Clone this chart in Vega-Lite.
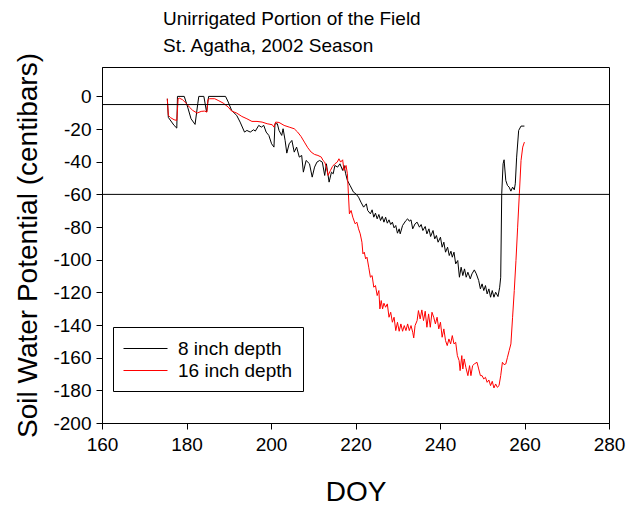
{
  "$schema": "https://vega.github.io/schema/vega-lite/v6.json",
  "autosize": "none",
  "padding": {"left": 102, "top": 67, "right": 20, "bottom": 87},
  "width": 507,
  "height": 356,
  "background": "white",
  "title": {
    "text": ["Unirrigated Portion of the Field", "St. Agatha, 2002 Season"],
    "anchor": "start",
    "frame": "group",
    "dx": 61,
    "offset": -3,
    "font": "Liberation Sans",
    "fontSize": 19,
    "fontWeight": "normal",
    "lineHeight": 27,
    "color": "black"
  },
  "config": {
    "view": {"stroke": "black", "strokeWidth": 1},
    "axis": {
      "grid": false,
      "domainColor": "black",
      "tickColor": "black",
      "labelColor": "black",
      "titleColor": "black",
      "labelFont": "Liberation Sans",
      "titleFont": "Liberation Sans",
      "labelFontSize": 19,
      "titleFontSize": 28,
      "titleFontWeight": "normal",
      "tickSize": 6,
      "labelFlush": false,
      "labelOverlap": false
    }
  },
  "datasets": {
    "refs": [{"swp": -5}, {"swp": -60}],
    "series": [
      {"doy": 175.46, "swp": -1.43, "depth": "8 inch depth"},
      {"doy": 175.70, "swp": -12.87, "depth": "8 inch depth"},
      {"doy": 177.06, "swp": -17.77, "depth": "8 inch depth"},
      {"doy": 177.70, "swp": -19.41, "depth": "8 inch depth"},
      {"doy": 177.86, "swp": 0, "depth": "8 inch depth"},
      {"doy": 179.47, "swp": 0, "depth": "8 inch depth"},
      {"doy": 180.27, "swp": -6.54, "depth": "8 inch depth"},
      {"doy": 181.07, "swp": -13.69, "depth": "8 inch depth"},
      {"doy": 182.03, "swp": -17.16, "depth": "8 inch depth"},
      {"doy": 182.67, "swp": -4.49, "depth": "8 inch depth"},
      {"doy": 182.91, "swp": 0, "depth": "8 inch depth"},
      {"doy": 184.11, "swp": 0, "depth": "8 inch depth"},
      {"doy": 184.75, "swp": -9.60, "depth": "8 inch depth"},
      {"doy": 185.23, "swp": 0, "depth": "8 inch depth"},
      {"doy": 189.24, "swp": 0, "depth": "8 inch depth"},
      {"doy": 189.88, "swp": -3.47, "depth": "8 inch depth"},
      {"doy": 190.68, "swp": -8.58, "depth": "8 inch depth"},
      {"doy": 191.88, "swp": -11.64, "depth": "8 inch depth"},
      {"doy": 192.69, "swp": -15.73, "depth": "8 inch depth"},
      {"doy": 193.73, "swp": -21.86, "depth": "8 inch depth"},
      {"doy": 194.29, "swp": -20.84, "depth": "8 inch depth"},
      {"doy": 195.09, "swp": -21.86, "depth": "8 inch depth"},
      {"doy": 195.89, "swp": -20.43, "depth": "8 inch depth"},
      {"doy": 196.29, "swp": -21.25, "depth": "8 inch depth"},
      {"doy": 197.09, "swp": -17.77, "depth": "8 inch depth"},
      {"doy": 197.73, "swp": -18.80, "depth": "8 inch depth"},
      {"doy": 198.29, "swp": -17.77, "depth": "8 inch depth"},
      {"doy": 198.85, "swp": -21.86, "depth": "8 inch depth"},
      {"doy": 199.49, "swp": -23.90, "depth": "8 inch depth"},
      {"doy": 200.14, "swp": -29.01, "depth": "8 inch depth"},
      {"doy": 200.70, "swp": -31.05, "depth": "8 inch depth"},
      {"doy": 200.94, "swp": -16.75, "depth": "8 inch depth"},
      {"doy": 201.50, "swp": -16.75, "depth": "8 inch depth"},
      {"doy": 201.90, "swp": -20.84, "depth": "8 inch depth"},
      {"doy": 202.54, "swp": -23.90, "depth": "8 inch depth"},
      {"doy": 202.86, "swp": -19.82, "depth": "8 inch depth"},
      {"doy": 203.34, "swp": -26.97, "depth": "8 inch depth"},
      {"doy": 203.74, "swp": -34.73, "depth": "8 inch depth"},
      {"doy": 204.30, "swp": -29.01, "depth": "8 inch depth"},
      {"doy": 204.94, "swp": -26.97, "depth": "8 inch depth"},
      {"doy": 205.50, "swp": -34.12, "depth": "8 inch depth"},
      {"doy": 206.06, "swp": -31.05, "depth": "8 inch depth"},
      {"doy": 206.70, "swp": -37.18, "depth": "8 inch depth"},
      {"doy": 207.26, "swp": -36.16, "depth": "8 inch depth"},
      {"doy": 207.66, "swp": -46.38, "depth": "8 inch depth"},
      {"doy": 208.31, "swp": -39.23, "depth": "8 inch depth"},
      {"doy": 209.11, "swp": -41.27, "depth": "8 inch depth"},
      {"doy": 209.75, "swp": -49.44, "depth": "8 inch depth"},
      {"doy": 210.31, "swp": -43.31, "depth": "8 inch depth"},
      {"doy": 210.87, "swp": -40.25, "depth": "8 inch depth"},
      {"doy": 211.51, "swp": -39.23, "depth": "8 inch depth"},
      {"doy": 212.15, "swp": -40.25, "depth": "8 inch depth"},
      {"doy": 212.71, "swp": -48.42, "depth": "8 inch depth"},
      {"doy": 213.11, "swp": -41.27, "depth": "8 inch depth"},
      {"doy": 213.75, "swp": -52.50, "depth": "8 inch depth"},
      {"doy": 214.31, "swp": -46.38, "depth": "8 inch depth"},
      {"doy": 214.72, "swp": -47.40, "depth": "8 inch depth"},
      {"doy": 215.12, "swp": -42.29, "depth": "8 inch depth"},
      {"doy": 215.76, "swp": -43.31, "depth": "8 inch depth"},
      {"doy": 216.32, "swp": -41.27, "depth": "8 inch depth"},
      {"doy": 216.96, "swp": -45.35, "depth": "8 inch depth"},
      {"doy": 217.28, "swp": -42.29, "depth": "8 inch depth"},
      {"doy": 217.68, "swp": -47.40, "depth": "8 inch depth"},
      {"doy": 218.08, "swp": -51.48, "depth": "8 inch depth"},
      {"doy": 218.72, "swp": -54.55, "depth": "8 inch depth"},
      {"doy": 219.52, "swp": -58.63, "depth": "8 inch depth"},
      {"doy": 220.08, "swp": -59.65, "depth": "8 inch depth"},
      {"doy": 220.72, "swp": -61.70, "depth": "8 inch depth"},
      {"doy": 221.28, "swp": -64.76, "depth": "8 inch depth"},
      {"doy": 221.92, "swp": -67.82, "depth": "8 inch depth"},
      {"doy": 222.57, "swp": -65.78, "depth": "8 inch depth"},
      {"doy": 222.89, "swp": -69.87, "depth": "8 inch depth"},
      {"doy": 223.53, "swp": -71.91, "depth": "8 inch depth"},
      {"doy": 223.93, "swp": -69.46, "depth": "8 inch depth"},
      {"doy": 224.33, "swp": -73.96, "depth": "8 inch depth"},
      {"doy": 224.73, "swp": -71.50, "depth": "8 inch depth"},
      {"doy": 225.13, "swp": -74.98, "depth": "8 inch depth"},
      {"doy": 225.53, "swp": -72.32, "depth": "8 inch depth"},
      {"doy": 225.93, "swp": -76.00, "depth": "8 inch depth"},
      {"doy": 226.33, "swp": -73.55, "depth": "8 inch depth"},
      {"doy": 226.73, "swp": -77.02, "depth": "8 inch depth"},
      {"doy": 227.13, "swp": -73.96, "depth": "8 inch depth"},
      {"doy": 227.53, "swp": -77.63, "depth": "8 inch depth"},
      {"doy": 227.93, "swp": -75.59, "depth": "8 inch depth"},
      {"doy": 228.33, "swp": -78.45, "depth": "8 inch depth"},
      {"doy": 228.73, "swp": -77.02, "depth": "8 inch depth"},
      {"doy": 229.13, "swp": -80.49, "depth": "8 inch depth"},
      {"doy": 229.53, "swp": -79.06, "depth": "8 inch depth"},
      {"doy": 229.93, "swp": -83.76, "depth": "8 inch depth"},
      {"doy": 230.34, "swp": -81.10, "depth": "8 inch depth"},
      {"doy": 230.58, "swp": -84.17, "depth": "8 inch depth"},
      {"doy": 231.14, "swp": -79.06, "depth": "8 inch depth"},
      {"doy": 231.94, "swp": -76.00, "depth": "8 inch depth"},
      {"doy": 232.34, "swp": -74.98, "depth": "8 inch depth"},
      {"doy": 232.74, "swp": -76.41, "depth": "8 inch depth"},
      {"doy": 233.14, "swp": -75.59, "depth": "8 inch depth"},
      {"doy": 233.54, "swp": -81.10, "depth": "8 inch depth"},
      {"doy": 234.10, "swp": -78.04, "depth": "8 inch depth"},
      {"doy": 234.58, "swp": -77.02, "depth": "8 inch depth"},
      {"doy": 235.14, "swp": -80.08, "depth": "8 inch depth"},
      {"doy": 235.54, "swp": -78.45, "depth": "8 inch depth"},
      {"doy": 235.94, "swp": -82.13, "depth": "8 inch depth"},
      {"doy": 236.50, "swp": -79.67, "depth": "8 inch depth"},
      {"doy": 236.90, "swp": -84.17, "depth": "8 inch depth"},
      {"doy": 237.38, "swp": -81.10, "depth": "8 inch depth"},
      {"doy": 237.78, "swp": -85.80, "depth": "8 inch depth"},
      {"doy": 238.35, "swp": -82.13, "depth": "8 inch depth"},
      {"doy": 238.75, "swp": -87.24, "depth": "8 inch depth"},
      {"doy": 239.15, "swp": -85.19, "depth": "8 inch depth"},
      {"doy": 239.55, "swp": -89.28, "depth": "8 inch depth"},
      {"doy": 240.11, "swp": -86.21, "depth": "8 inch depth"},
      {"doy": 240.51, "swp": -92.34, "depth": "8 inch depth"},
      {"doy": 240.91, "swp": -89.28, "depth": "8 inch depth"},
      {"doy": 241.31, "swp": -95.40, "depth": "8 inch depth"},
      {"doy": 241.79, "swp": -92.34, "depth": "8 inch depth"},
      {"doy": 242.19, "swp": -97.45, "depth": "8 inch depth"},
      {"doy": 242.59, "swp": -94.79, "depth": "8 inch depth"},
      {"doy": 242.91, "swp": -98.47, "depth": "8 inch depth"},
      {"doy": 243.31, "swp": -95.40, "depth": "8 inch depth"},
      {"doy": 243.71, "swp": -102.56, "depth": "8 inch depth"},
      {"doy": 244.20, "swp": -100.51, "depth": "8 inch depth"},
      {"doy": 244.60, "swp": -110.73, "depth": "8 inch depth"},
      {"doy": 245.00, "swp": -104.60, "depth": "8 inch depth"},
      {"doy": 245.40, "swp": -109.71, "depth": "8 inch depth"},
      {"doy": 245.80, "swp": -105.62, "depth": "8 inch depth"},
      {"doy": 246.20, "swp": -110.73, "depth": "8 inch depth"},
      {"doy": 246.60, "swp": -107.67, "depth": "8 inch depth"},
      {"doy": 247.16, "swp": -111.75, "depth": "8 inch depth"},
      {"doy": 247.56, "swp": -108.69, "depth": "8 inch depth"},
      {"doy": 248.12, "swp": -106.24, "depth": "8 inch depth"},
      {"doy": 248.60, "swp": -108.69, "depth": "8 inch depth"},
      {"doy": 249.16, "swp": -112.77, "depth": "8 inch depth"},
      {"doy": 249.56, "swp": -117.88, "depth": "8 inch depth"},
      {"doy": 249.96, "swp": -114.81, "depth": "8 inch depth"},
      {"doy": 250.36, "swp": -118.90, "depth": "8 inch depth"},
      {"doy": 250.76, "swp": -115.83, "depth": "8 inch depth"},
      {"doy": 251.16, "swp": -120.94, "depth": "8 inch depth"},
      {"doy": 251.57, "swp": -117.88, "depth": "8 inch depth"},
      {"doy": 251.97, "swp": -122.98, "depth": "8 inch depth"},
      {"doy": 252.37, "swp": -118.90, "depth": "8 inch depth"},
      {"doy": 252.77, "swp": -122.98, "depth": "8 inch depth"},
      {"doy": 253.17, "swp": -119.92, "depth": "8 inch depth"},
      {"doy": 253.73, "swp": -122.57, "depth": "8 inch depth"},
      {"doy": 254.13, "swp": -116.86, "depth": "8 inch depth"},
      {"doy": 254.37, "swp": -110.73, "depth": "8 inch depth"},
      {"doy": 254.61, "swp": -59.65, "depth": "8 inch depth"},
      {"doy": 254.93, "swp": -41.27, "depth": "8 inch depth"},
      {"doy": 255.17, "swp": -38.82, "depth": "8 inch depth"},
      {"doy": 255.57, "swp": -51.48, "depth": "8 inch depth"},
      {"doy": 255.97, "swp": -54.55, "depth": "8 inch depth"},
      {"doy": 256.37, "swp": -55.57, "depth": "8 inch depth"},
      {"doy": 256.78, "swp": -58.02, "depth": "8 inch depth"},
      {"doy": 257.18, "swp": -55.57, "depth": "8 inch depth"},
      {"doy": 257.58, "swp": -57.20, "depth": "8 inch depth"},
      {"doy": 257.82, "swp": -53.52, "depth": "8 inch depth"},
      {"doy": 258.14, "swp": -37.18, "depth": "8 inch depth"},
      {"doy": 258.62, "swp": -20.84, "depth": "8 inch depth"},
      {"doy": 259.18, "swp": -18.18, "depth": "8 inch depth"},
      {"doy": 259.98, "swp": -18.18, "depth": "8 inch depth"},

      {"doy": 175.46, "swp": -1.43, "depth": "16 inch depth"},
      {"doy": 175.70, "swp": -11.64, "depth": "16 inch depth"},
      {"doy": 176.26, "swp": -13.07, "depth": "16 inch depth"},
      {"doy": 177.06, "swp": -14.30, "depth": "16 inch depth"},
      {"doy": 177.70, "swp": -14.71, "depth": "16 inch depth"},
      {"doy": 178.02, "swp": -1.43, "depth": "16 inch depth"},
      {"doy": 178.26, "swp": -1.02, "depth": "16 inch depth"},
      {"doy": 179.07, "swp": -2.04, "depth": "16 inch depth"},
      {"doy": 179.87, "swp": -4.09, "depth": "16 inch depth"},
      {"doy": 180.67, "swp": -6.54, "depth": "16 inch depth"},
      {"doy": 181.47, "swp": -8.58, "depth": "16 inch depth"},
      {"doy": 182.51, "swp": -10.21, "depth": "16 inch depth"},
      {"doy": 183.47, "swp": -9.19, "depth": "16 inch depth"},
      {"doy": 184.27, "swp": -8.99, "depth": "16 inch depth"},
      {"doy": 184.83, "swp": -9.60, "depth": "16 inch depth"},
      {"doy": 185.07, "swp": -2.04, "depth": "16 inch depth"},
      {"doy": 185.47, "swp": -1.43, "depth": "16 inch depth"},
      {"doy": 186.68, "swp": -1.43, "depth": "16 inch depth"},
      {"doy": 187.48, "swp": -2.45, "depth": "16 inch depth"},
      {"doy": 188.68, "swp": -4.09, "depth": "16 inch depth"},
      {"doy": 189.88, "swp": -6.54, "depth": "16 inch depth"},
      {"doy": 190.68, "swp": -8.99, "depth": "16 inch depth"},
      {"doy": 191.88, "swp": -10.21, "depth": "16 inch depth"},
      {"doy": 193.09, "swp": -12.26, "depth": "16 inch depth"},
      {"doy": 194.29, "swp": -13.69, "depth": "16 inch depth"},
      {"doy": 195.49, "swp": -15.32, "depth": "16 inch depth"},
      {"doy": 196.69, "swp": -15.32, "depth": "16 inch depth"},
      {"doy": 197.89, "swp": -15.73, "depth": "16 inch depth"},
      {"doy": 199.09, "swp": -16.75, "depth": "16 inch depth"},
      {"doy": 200.30, "swp": -17.36, "depth": "16 inch depth"},
      {"doy": 200.70, "swp": -18.80, "depth": "16 inch depth"},
      {"doy": 201.10, "swp": -15.73, "depth": "16 inch depth"},
      {"doy": 201.90, "swp": -15.94, "depth": "16 inch depth"},
      {"doy": 203.10, "swp": -17.77, "depth": "16 inch depth"},
      {"doy": 204.30, "swp": -18.80, "depth": "16 inch depth"},
      {"doy": 205.50, "swp": -19.82, "depth": "16 inch depth"},
      {"doy": 206.30, "swp": -21.86, "depth": "16 inch depth"},
      {"doy": 207.10, "swp": -24.51, "depth": "16 inch depth"},
      {"doy": 207.90, "swp": -27.99, "depth": "16 inch depth"},
      {"doy": 208.71, "swp": -31.46, "depth": "16 inch depth"},
      {"doy": 209.51, "swp": -34.12, "depth": "16 inch depth"},
      {"doy": 210.31, "swp": -35.55, "depth": "16 inch depth"},
      {"doy": 211.11, "swp": -36.16, "depth": "16 inch depth"},
      {"doy": 211.91, "swp": -37.18, "depth": "16 inch depth"},
      {"doy": 212.31, "swp": -39.23, "depth": "16 inch depth"},
      {"doy": 212.71, "swp": -40.25, "depth": "16 inch depth"},
      {"doy": 213.11, "swp": -43.31, "depth": "16 inch depth"},
      {"doy": 213.51, "swp": -48.42, "depth": "16 inch depth"},
      {"doy": 214.07, "swp": -45.35, "depth": "16 inch depth"},
      {"doy": 214.55, "swp": -42.90, "depth": "16 inch depth"},
      {"doy": 215.12, "swp": -41.27, "depth": "16 inch depth"},
      {"doy": 215.68, "swp": -40.25, "depth": "16 inch depth"},
      {"doy": 216.08, "swp": -38.20, "depth": "16 inch depth"},
      {"doy": 216.48, "swp": -40.25, "depth": "16 inch depth"},
      {"doy": 216.96, "swp": -38.82, "depth": "16 inch depth"},
      {"doy": 217.28, "swp": -45.35, "depth": "16 inch depth"},
      {"doy": 217.76, "swp": -42.29, "depth": "16 inch depth"},
      {"doy": 218.08, "swp": -47.40, "depth": "16 inch depth"},
      {"doy": 218.32, "swp": -59.65, "depth": "16 inch depth"},
      {"doy": 218.56, "swp": -71.91, "depth": "16 inch depth"},
      {"doy": 218.96, "swp": -69.87, "depth": "16 inch depth"},
      {"doy": 219.36, "swp": -73.96, "depth": "16 inch depth"},
      {"doy": 219.92, "swp": -78.04, "depth": "16 inch depth"},
      {"doy": 220.32, "swp": -77.02, "depth": "16 inch depth"},
      {"doy": 220.72, "swp": -81.10, "depth": "16 inch depth"},
      {"doy": 221.12, "swp": -84.17, "depth": "16 inch depth"},
      {"doy": 221.52, "swp": -89.28, "depth": "16 inch depth"},
      {"doy": 221.76, "swp": -96.43, "depth": "16 inch depth"},
      {"doy": 222.08, "swp": -95.40, "depth": "16 inch depth"},
      {"doy": 222.40, "swp": -99.49, "depth": "16 inch depth"},
      {"doy": 222.72, "swp": -98.47, "depth": "16 inch depth"},
      {"doy": 223.13, "swp": -104.60, "depth": "16 inch depth"},
      {"doy": 223.53, "swp": -110.73, "depth": "16 inch depth"},
      {"doy": 223.93, "swp": -109.71, "depth": "16 inch depth"},
      {"doy": 224.33, "swp": -116.86, "depth": "16 inch depth"},
      {"doy": 224.73, "swp": -115.83, "depth": "16 inch depth"},
      {"doy": 225.13, "swp": -121.96, "depth": "16 inch depth"},
      {"doy": 225.53, "swp": -118.90, "depth": "16 inch depth"},
      {"doy": 225.77, "swp": -130.13, "depth": "16 inch depth"},
      {"doy": 226.09, "swp": -125.02, "depth": "16 inch depth"},
      {"doy": 226.41, "swp": -130.13, "depth": "16 inch depth"},
      {"doy": 226.73, "swp": -126.65, "depth": "16 inch depth"},
      {"doy": 227.13, "swp": -129.11, "depth": "16 inch depth"},
      {"doy": 227.53, "swp": -127.07, "depth": "16 inch depth"},
      {"doy": 227.93, "swp": -135.24, "depth": "16 inch depth"},
      {"doy": 228.33, "swp": -132.18, "depth": "16 inch depth"},
      {"doy": 228.73, "swp": -138.30, "depth": "16 inch depth"},
      {"doy": 229.13, "swp": -135.24, "depth": "16 inch depth"},
      {"doy": 229.53, "swp": -143.41, "depth": "16 inch depth"},
      {"doy": 229.93, "swp": -138.30, "depth": "16 inch depth"},
      {"doy": 230.34, "swp": -143.82, "depth": "16 inch depth"},
      {"doy": 230.74, "swp": -139.33, "depth": "16 inch depth"},
      {"doy": 231.14, "swp": -143.82, "depth": "16 inch depth"},
      {"doy": 231.54, "swp": -140.35, "depth": "16 inch depth"},
      {"doy": 231.94, "swp": -143.41, "depth": "16 inch depth"},
      {"doy": 232.34, "swp": -139.33, "depth": "16 inch depth"},
      {"doy": 232.74, "swp": -143.41, "depth": "16 inch depth"},
      {"doy": 233.14, "swp": -140.35, "depth": "16 inch depth"},
      {"doy": 233.54, "swp": -144.43, "depth": "16 inch depth"},
      {"doy": 233.78, "swp": -147.90, "depth": "16 inch depth"},
      {"doy": 234.10, "swp": -140.35, "depth": "16 inch depth"},
      {"doy": 234.58, "swp": -137.29, "depth": "16 inch depth"},
      {"doy": 234.90, "swp": -131.16, "depth": "16 inch depth"},
      {"doy": 235.30, "swp": -136.27, "depth": "16 inch depth"},
      {"doy": 235.70, "swp": -130.75, "depth": "16 inch depth"},
      {"doy": 236.10, "swp": -137.29, "depth": "16 inch depth"},
      {"doy": 236.50, "swp": -131.57, "depth": "16 inch depth"},
      {"doy": 236.90, "swp": -141.37, "depth": "16 inch depth"},
      {"doy": 237.30, "swp": -133.20, "depth": "16 inch depth"},
      {"doy": 237.70, "swp": -141.37, "depth": "16 inch depth"},
      {"doy": 238.10, "swp": -132.18, "depth": "16 inch depth"},
      {"doy": 238.51, "swp": -135.24, "depth": "16 inch depth"},
      {"doy": 238.91, "swp": -139.33, "depth": "16 inch depth"},
      {"doy": 239.31, "swp": -135.24, "depth": "16 inch depth"},
      {"doy": 239.71, "swp": -142.39, "depth": "16 inch depth"},
      {"doy": 240.11, "swp": -138.30, "depth": "16 inch depth"},
      {"doy": 240.51, "swp": -147.49, "depth": "16 inch depth"},
      {"doy": 240.91, "swp": -142.39, "depth": "16 inch depth"},
      {"doy": 241.31, "swp": -149.54, "depth": "16 inch depth"},
      {"doy": 241.71, "swp": -152.60, "depth": "16 inch depth"},
      {"doy": 242.11, "swp": -148.52, "depth": "16 inch depth"},
      {"doy": 242.51, "swp": -151.58, "depth": "16 inch depth"},
      {"doy": 242.91, "swp": -146.47, "depth": "16 inch depth"},
      {"doy": 243.31, "swp": -151.58, "depth": "16 inch depth"},
      {"doy": 243.71, "swp": -150.56, "depth": "16 inch depth"},
      {"doy": 244.11, "swp": -158.73, "depth": "16 inch depth"},
      {"doy": 244.52, "swp": -161.80, "depth": "16 inch depth"},
      {"doy": 244.76, "swp": -167.93, "depth": "16 inch depth"},
      {"doy": 245.16, "swp": -158.73, "depth": "16 inch depth"},
      {"doy": 245.40, "swp": -166.91, "depth": "16 inch depth"},
      {"doy": 245.72, "swp": -160.78, "depth": "16 inch depth"},
      {"doy": 246.12, "swp": -165.89, "depth": "16 inch depth"},
      {"doy": 246.60, "swp": -171.00, "depth": "16 inch depth"},
      {"doy": 247.00, "swp": -164.87, "depth": "16 inch depth"},
      {"doy": 247.32, "swp": -171.00, "depth": "16 inch depth"},
      {"doy": 247.72, "swp": -164.87, "depth": "16 inch depth"},
      {"doy": 248.12, "swp": -163.85, "depth": "16 inch depth"},
      {"doy": 248.76, "swp": -162.82, "depth": "16 inch depth"},
      {"doy": 249.16, "swp": -166.91, "depth": "16 inch depth"},
      {"doy": 249.56, "swp": -171.00, "depth": "16 inch depth"},
      {"doy": 249.96, "swp": -171.00, "depth": "16 inch depth"},
      {"doy": 250.36, "swp": -173.03, "depth": "16 inch depth"},
      {"doy": 250.76, "swp": -172.01, "depth": "16 inch depth"},
      {"doy": 251.16, "swp": -175.08, "depth": "16 inch depth"},
      {"doy": 251.57, "swp": -173.65, "depth": "16 inch depth"},
      {"doy": 251.97, "swp": -177.12, "depth": "16 inch depth"},
      {"doy": 252.37, "swp": -174.46, "depth": "16 inch depth"},
      {"doy": 252.77, "swp": -178.55, "depth": "16 inch depth"},
      {"doy": 253.17, "swp": -176.10, "depth": "16 inch depth"},
      {"doy": 253.57, "swp": -178.14, "depth": "16 inch depth"},
      {"doy": 253.97, "swp": -177.12, "depth": "16 inch depth"},
      {"doy": 254.37, "swp": -171.00, "depth": "16 inch depth"},
      {"doy": 254.77, "swp": -162.82, "depth": "16 inch depth"},
      {"doy": 255.17, "swp": -164.26, "depth": "16 inch depth"},
      {"doy": 255.57, "swp": -163.85, "depth": "16 inch depth"},
      {"doy": 255.97, "swp": -159.76, "depth": "16 inch depth"},
      {"doy": 256.37, "swp": -155.68, "depth": "16 inch depth"},
      {"doy": 256.78, "swp": -151.58, "depth": "16 inch depth"},
      {"doy": 257.18, "swp": -135.24, "depth": "16 inch depth"},
      {"doy": 257.58, "swp": -118.90, "depth": "16 inch depth"},
      {"doy": 257.98, "swp": -100.51, "depth": "16 inch depth"},
      {"doy": 258.38, "swp": -80.08, "depth": "16 inch depth"},
      {"doy": 258.78, "swp": -59.65, "depth": "16 inch depth"},
      {"doy": 259.18, "swp": -39.23, "depth": "16 inch depth"},
      {"doy": 259.58, "swp": -31.05, "depth": "16 inch depth"},
      {"doy": 259.98, "swp": -27.99, "depth": "16 inch depth"}
    ]
  },
  "encoding": {
    "y": {
      "field": "swp", "type": "quantitative", "title": "Soil Water Potential (centibars)",
      "scale": {"domain": [-200, 18], "nice": false, "zero": false},
      "axis": {"values": [0, -20, -40, -60, -80, -100, -120, -140, -160, -180, -200], "labelExpr": "'' + datum.value", "labelPadding": 5, "titlePadding": 10, "labelOverlap": false}
    }
  },
  "layer": [
    {
      "data": {"name": "series"},
      "mark": {"type": "line", "strokeWidth": 1, "interpolate": "linear"},
      "encoding": {
        "x": {
          "field": "doy", "type": "quantitative", "title": "DOY",
          "scale": {"domain": [160, 280], "nice": false, "zero": false},
          "axis": {"values": [160, 180, 200, 220, 240, 260, 280], "labelPadding": 6, "titlePadding": 24, "labelOverlap": false}
        },
        "color": {
          "field": "depth", "type": "nominal",
          "sort": ["8 inch depth", "16 inch depth"],
          "scale": {"domain": ["8 inch depth", "16 inch depth"], "range": ["#000000", "#ff0000"]},
          "legend": {
            "title": null,
            "orient": "none",
            "legendX": 11,
            "legendY": 260,
            "symbolType": "M-1,0H3",
            "symbolSize": 484,
            "symbolStrokeWidth": 1,
            "labelFont": "Liberation Sans",
            "labelFontSize": 19,
            "labelColor": "black",
            "labelOffset": 32,
            "strokeColor": "black",
            "fillColor": "white",
            "padding": 10,
            "rowPadding": 0
          }
        },
        "detail": {"field": "depth"}
      }
    },
    {
      "data": {"name": "refs"},
      "mark": {"type": "rule", "color": "black", "strokeWidth": 1},
      "encoding": {}
    }
  ]
}
